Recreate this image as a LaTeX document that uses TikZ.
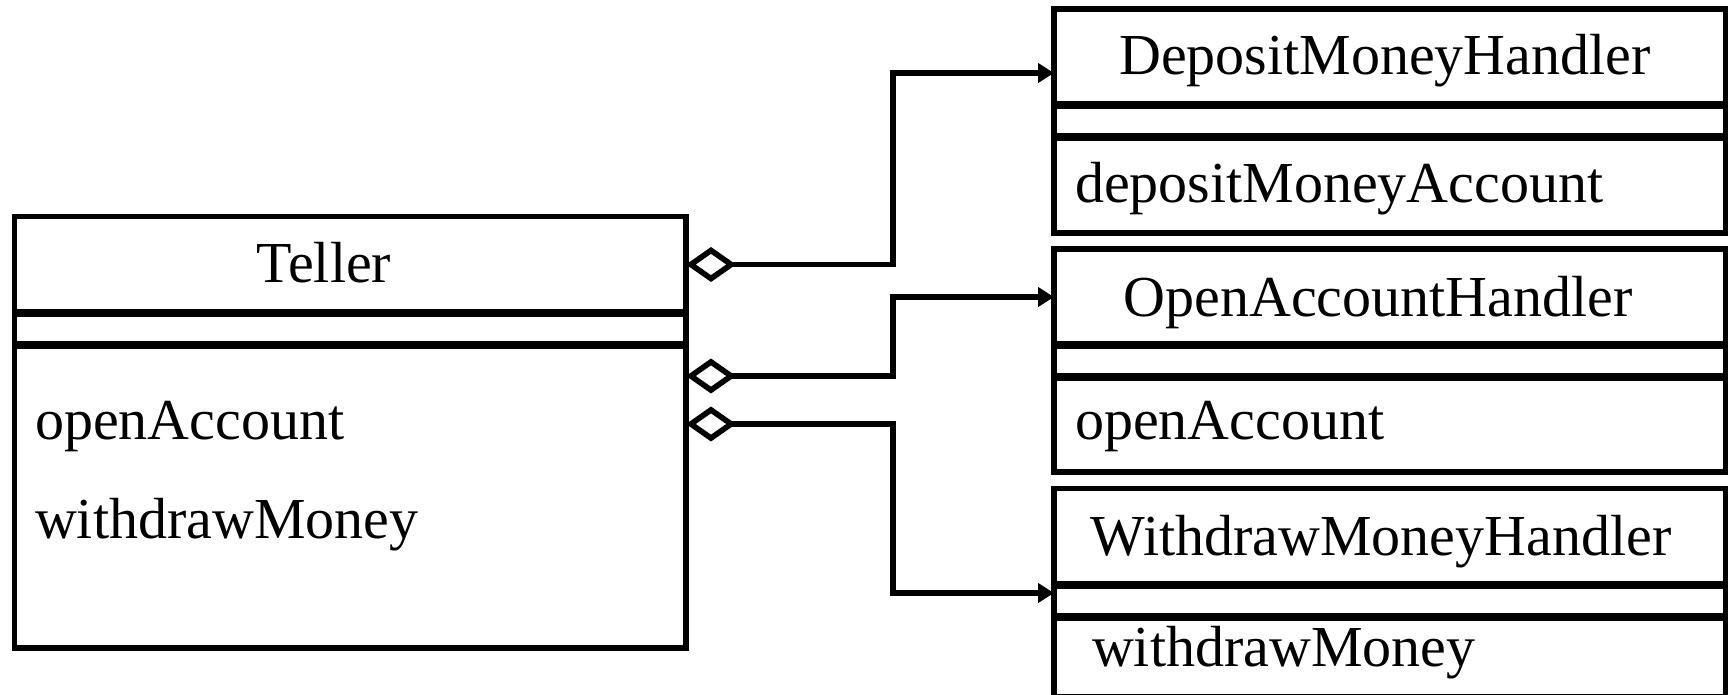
\documentclass[tikz,border=0pt]{standalone}
\usepackage{fontspec}
\setmainfont{Liberation Serif}
\usetikzlibrary{arrows.meta}

\tikzset{
  classbox/.style={draw, line width=2.8pt, inner sep=0pt, outer sep=0pt,
                   anchor=north west, minimum width=335.75pt},
  divider/.style={line width=4pt},
  umltext/.style={inner sep=0pt, outer sep=0pt, font=\fontsize{29pt}{34pt}\selectfont},
  agg/.style={line width=2.8pt,
              {Diamond[open,length=25pt,width=17.5pt]}-{Triangle[length=8pt,width=9.5pt]}}
}

\begin{document}
\begin{tikzpicture}[x=0.5pt, y=-0.5pt]
  \useasboundingbox (0,0) rectangle (1729,695);
  \clip (0,0) rectangle (1729,695);

  % class outlines
  \node[classbox, minimum height=215.75pt] (teller) at (14.5,216.5) {};
  \node[classbox, minimum height=112pt]    (dep)    at (1054,9) {};
  \node[classbox, minimum height=111.5pt]  (open)   at (1054,249) {};
  \node[classbox, minimum height=104.25pt] (wd)     at (1054,488.5) {};

  % compartment dividers
  \draw[divider] ([yshift=-48.25pt]teller.north west) -- ([yshift=-48.25pt]teller.north east);
  \draw[divider] ([yshift=-64.25pt]teller.north west) -- ([yshift=-64.25pt]teller.north east);
  \foreach \c in {dep, open, wd} {
    \draw[divider] ([yshift=-48pt]\c.north west) -- ([yshift=-48pt]\c.north east);
    \draw[divider] ([yshift=-64pt]\c.north west) -- ([yshift=-64pt]\c.north east);
  }

  % class names and operations
  \node[umltext, anchor=base] (tname) at (324,283) {Teller};
  \node[umltext, anchor=base west] (top1) at (35,439) {openAccount};
  \node[umltext, anchor=base west] (top2) at (35,538) {withdrawMoney};

  \node[umltext, anchor=base] (dname) at (1385,75) {DepositMoneyHandler};
  \node[umltext, anchor=base west] (dop) at (1075,203) {depositMoneyAccount};

  \node[umltext, anchor=base] (oname) at (1378,316) {OpenAccountHandler};
  \node[umltext, anchor=base west] (oop) at (1075,439) {openAccount};

  \node[umltext, anchor=base] (wname) at (1381,555) {WithdrawMoneyHandler};
  \node[umltext, anchor=base west] (wop) at (1092,666) {withdrawMoney};

  % connector end points on the class outlines
  \coordinate (bend) at (893,0);
  \coordinate (t1) at ([yshift=-24pt]teller.north east);
  \coordinate (t2) at ([yshift=-79.75pt]teller.north east);
  \coordinate (t3) at ([yshift=-103.75pt]teller.north east);
  \coordinate (d1) at ([yshift=-32pt]dep.north west);
  \coordinate (o1) at ([yshift=-24pt]open.north west);
  \coordinate (w1) at ([yshift=-52.25pt]wd.north west);

  % aggregations
  \draw[agg] (t1) -- (t1 -| bend) |- (d1);
  \draw[agg] (t2) -- (t2 -| bend) |- (o1);
  \draw[agg] (t3) -- (t3 -| bend) |- (w1);
\end{tikzpicture}
\end{document}
